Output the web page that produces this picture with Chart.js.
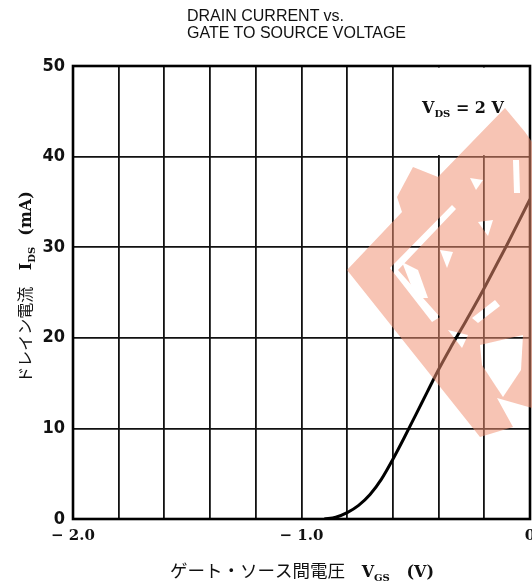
<!DOCTYPE html>
<html>
<head>
<meta charset="utf-8">
<script src="https://cdn.jsdelivr.net/npm/chart.js@4.4.0/dist/chart.umd.min.js"></script>
<style>
  html, body { margin: 0; padding: 0; background: #fff; overflow: hidden; }
  #wrap { position: relative; width: 532px; height: 588px; overflow: hidden; }
  #chart { position: absolute; left: 0; top: 0; }
  #title { position: absolute; left: 187px; top: 7px; font: 16px "Liberation Sans", Arial, sans-serif; line-height: 17px; color: #111; }
</style>
</head>
<body>
<div id="wrap">
  <canvas id="chart" width="545" height="588"></canvas>
  <div id="title">DRAIN CURRENT vs.<br>GATE TO SOURCE VOLTAGE</div>
</div>
<script>
// gate-source voltage (V) and drain current (mA)
const vgs = [-0.90, -0.85, -0.80, -0.75, -0.70, -0.65, -0.60, -0.55, -0.50, -0.45,
             -0.40, -0.35, -0.30, -0.25, -0.20, -0.15, -0.10, -0.05, 0.00];
const ids = [0, 0.2, 0.7, 1.5, 2.7, 4.4, 6.6, 9.0, 11.5, 14.0,
             16.5, 18.8, 21.0, 23.2, 25.5, 27.9, 30.3, 32.8, 35.3];

const xTickValues = [-2, -1, 0];
const xTickLabels = ['− 2.0', '− 1.0', '0'];
const yTickValues = [0, 10, 20, 30, 40, 50];

const serifBold = 'bold 16px "DejaVu Serif", "Liberation Serif", serif';
const jpFont = '"Noto Sans CJK JP", sans-serif';

function drawParts(ctx, parts, x, y, align) {
  let w = 0;
  parts.forEach(p => { ctx.font = p.font; p.w = ctx.measureText(p.t).width; w += p.w; });
  let cx = align === 'left' ? x : x - w / 2;
  ctx.textAlign = 'left';
  ctx.textBaseline = 'alphabetic';
  parts.forEach(p => { ctx.font = p.font; ctx.fillText(p.t, cx, y + (p.dy || 0)); cx += p.w; });
}

// scanned "sample" stamp over the right half of the sheet
let stamp = null;
function makeStamp(w, h) {
  const c = document.createElement('canvas');
  c.width = w; c.height = h;
  const g = c.getContext('2d');
  g.fillStyle = 'rgb(240,144,114)';
  g.beginPath();
  [[505,108],[438,177],[413,167],[397,197],[402,212],[347,270],[480,437],[513,427],
   [497,398],[532,408],[532,142],[525,132]].forEach((p, i) => i ? g.lineTo(p[0], p[1]) : g.moveTo(p[0], p[1]));
  g.closePath();
  g.fill();
  g.globalCompositeOperation = 'destination-out';
  const holes = [
    [[390,268],[452,205],[456,209],[398,270],[440,317],[432,322]],
    [[480,345],[523,335],[521,370],[503,397],[495,385],[482,365]],
    [[448,330],[468,335],[462,348]],
    [[472,318],[495,300],[500,306],[478,323]],
    [[470,178],[483,180],[476,190]],
    [[513,160],[519,160],[520,193],[514,193]],
    [[478,222],[493,220],[488,236]],
    [[440,250],[453,252],[447,268]],
    [[402,262],[418,270],[428,298],[416,298]]
  ];
  holes.forEach(poly => {
    g.beginPath();
    poly.forEach((p, i) => i ? g.lineTo(p[0], p[1]) : g.moveTo(p[0], p[1]));
    g.closePath();
    g.fill();
  });
  return c;
}

const decor = {
  id: 'decor',
  beforeDatasetsDraw(chart) {
    const ctx = chart.ctx, a = chart.chartArea;
    const x = chart.scales.x, y = chart.scales.y;
    ctx.save();
    // no grid behind the condition label
    ctx.fillStyle = '#fff';
    const x0 = x.getPixelForValue(-0.6) + 1.5, x1 = x.getPixelForValue(0) - 1.5;
    const y0 = y.getPixelForValue(50) + 1.5, y1 = y.getPixelForValue(40) - 1.5;
    ctx.fillRect(x0, y0, x1 - x0, y1 - y0);
    ctx.strokeStyle = '#000';
    ctx.lineWidth = 2.6;
    ctx.strokeRect(a.left, a.top, a.right - a.left, a.bottom - a.top);
    ctx.fillStyle = '#111';
    drawParts(ctx, [
      { t: 'V', font: serifBold },
      { t: 'DS', font: 'bold 10px "DejaVu Serif", serif', dy: 4 },
      { t: ' = 2 V', font: serifBold }
    ], 422, 113, 'left');
    // axis titles
    drawParts(ctx, [
      { t: 'ゲート・ソース間電圧', font: '17.5px ' + jpFont },
      { t: '   ', font: serifBold },
      { t: 'V', font: serifBold },
      { t: 'GS', font: 'bold 10px "DejaVu Serif", serif', dy: 4 },
      { t: '   (V)', font: serifBold }
    ], 302, 577);
    ctx.translate(31, 287);
    ctx.rotate(-Math.PI / 2);
    drawParts(ctx, [
      { t: 'ドレイン電流', font: '16px ' + jpFont },
      { t: '   ', font: serifBold },
      { t: 'I', font: serifBold },
      { t: 'DS', font: 'bold 10px "DejaVu Serif", serif', dy: 4 },
      { t: '  (mA)', font: serifBold }
    ], 0, 0);
    ctx.restore();
  },
  afterDraw(chart) {
    const ctx = chart.ctx;
    if (!stamp) stamp = makeStamp(chart.width, chart.height);
    ctx.save();
    ctx.globalAlpha = 0.53;
    ctx.drawImage(stamp, 0, 0);
    ctx.restore();
  }
};

new Chart(document.getElementById('chart'), {
  type: 'line',
  data: {
    datasets: [{
      data: vgs.map((v, i) => ({ x: v, y: ids[i] })),
      borderColor: '#000',
      borderWidth: 3,
      pointRadius: 0,
      cubicInterpolationMode: 'monotone',
      fill: false
    }]
  },
  options: {
    responsive: false,
    animation: false,
    layout: { padding: { left: 0, right: 15, top: 66, bottom: 0 } },
    plugins: { legend: { display: false }, tooltip: { enabled: false } },
    scales: {
      x: {
        type: 'linear',
        min: -2, max: 0,
        afterFit: s => { s.height = 69; },
        grid: { color: '#111', lineWidth: 1.8, drawTicks: false },
        border: { display: false },
        ticks: {
          stepSize: 0.2,
          autoSkip: false,
          maxRotation: 0,
          padding: 8,
          color: '#111',
          font: { family: '"DejaVu Serif", "Liberation Serif", serif', size: 15, weight: 'bold' },
          callback: v => {
            const i = xTickValues.findIndex(t => Math.abs(t - v) < 1e-6);
            return i < 0 ? '' : xTickLabels[i];
          }
        }
      },
      y: {
        min: 0, max: 50,
        afterFit: s => { s.width = 73; },
        afterBuildTicks: s => { s.ticks = yTickValues.map(v => ({ value: v })); },
        grid: { color: '#111', lineWidth: 1.8, drawTicks: false },
        border: { display: false },
        ticks: {
          padding: 8,
          color: '#111',
          font: { family: '"Liberation Sans Narrow", "DejaVu Sans Condensed", sans-serif', size: 18, weight: 'bold' }
        }
      }
    }
  },
  plugins: [decor]
});
</script>
</body>
</html>
